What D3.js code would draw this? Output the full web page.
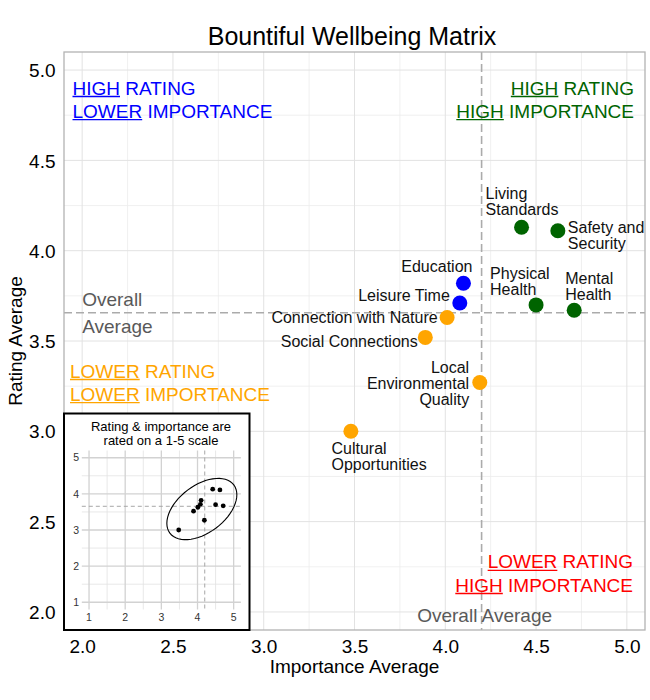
<!DOCTYPE html>
<html>
<head>
<meta charset="utf-8">
<script src="https://cdn.jsdelivr.net/npm/d3@7"></script>
<style>
  body { margin: 0; background: #fff; }
  svg text { font-family: "Liberation Sans", Arial, Helvetica, sans-serif; }
</style>
</head>
<body>
<div id="chart"></div>
<script>
// data
const categories = ["Living Standards", "Safety and Security", "Education", "Leisure Time",
  "Physical Health", "Mental Health", "Connection with Nature", "Social Connections",
  "Local Environmental Quality", "Cultural Opportunities"];
const importanceAvg = [4.42, 4.62, 4.10, 4.08, 4.50, 4.71, 4.01, 3.89, 4.19, 3.48];
const ratingAvg = [4.13, 4.11, 3.82, 3.71, 3.70, 3.67, 3.63, 3.52, 3.27, 3.00];
const mainTicks = [2.0, 2.5, 3.0, 3.5, 4.0, 4.5, 5.0];
const mainMinor = [2.25, 2.75, 3.25, 3.75, 4.25, 4.75];
const insetTicks = [1, 2, 3, 4, 5];
const insetMinor = [1.5, 2.5, 3.5, 4.5];

// inset ellipse (centre and shape in data units)
const ellipseCenter = [4.12, 3.58];
const ellipseShape = [0.937, 0.383, 0.719]; // xx, xy, yy

const quadColor = { hh: "#006400", lh: "#0000ff", ll: "#ffa500", hl: "#ff0000" };
const quadText = {
  lh: [["HIGH", " RATING"], ["LOWER", " IMPORTANCE"]],
  hh: [["HIGH", " RATING"], ["HIGH", " IMPORTANCE"]],
  ll: [["LOWER", " RATING"], ["LOWER", " IMPORTANCE"]],
  hl: [["LOWER", " RATING"], ["HIGH", " IMPORTANCE"]]
};

// label placement (pixel offsets from each point)
const labelLayout = [
  { dx: -36, dy: -28.5, anchor: "start", wrap: true },
  { dx: 10, dy: 1.7, anchor: "start", wrap: true },
  { dx: 9, dy: -11, anchor: "end" },
  { dx: -10, dy: -1.6, anchor: "end" },
  { dx: -46, dy: -26, anchor: "start", wrap: true },
  { dx: -9, dy: -26.7, anchor: "start", wrap: true },
  { dx: -9.4, dy: 5, anchor: "end" },
  { dx: -7.6, dy: 10, anchor: "end" },
  { dx: -10.6, dy: -10, anchor: "end", wrap: true },
  { dx: -19.4, dy: 22.6, anchor: "start", wrap: true }
];

const width = 650;
const height = 700;
const panel = { left: 64, right: 645, top: 52, bottom: 630 };

const avgImp = d3.mean(importanceAvg);
const avgRat = d3.mean(ratingAvg);

const quadrant = i => {
  const hiI = importanceAvg[i] >= avgImp;
  const hiR = ratingAvg[i] >= avgRat;
  return hiR ? (hiI ? "hh" : "lh") : (hiI ? "hl" : "ll");
};

const wrapLabel = name => {
  const words = name.split(" ");
  const lines = [];
  let cur = "";
  words.forEach(w => {
    const next = cur ? cur + " " + w : w;
    if (next.length > 12 && cur) { lines.push(cur); cur = w; }
    else cur = next;
  });
  lines.push(cur);
  return lines;
};

const x = d3.scaleLinear().domain([1.9, 5.1]).range([panel.left, panel.right]);
const y = d3.scaleLinear().domain([1.9, 5.1]).range([panel.bottom, panel.top]);

const svg = d3.select("#chart").append("svg")
  .attr("width", width)
  .attr("height", height);

svg.append("rect").attr("width", width).attr("height", height).attr("fill", "#fff");

svg.append("text")
  .attr("x", 352).attr("y", 44.5)
  .attr("text-anchor", "middle")
  .attr("font-size", 25)
  .text("Bountiful Wellbeing Matrix");

// grid
const grid = svg.append("g");
grid.selectAll(".minx").data(mainMinor).enter().append("line")
  .attr("x1", d => x(d)).attr("x2", d => x(d))
  .attr("y1", panel.top).attr("y2", panel.bottom)
  .attr("stroke", "#ececec").attr("stroke-width", 0.8);
grid.selectAll(".miny").data(mainMinor).enter().append("line")
  .attr("y1", d => y(d)).attr("y2", d => y(d))
  .attr("x1", panel.left).attr("x2", panel.right)
  .attr("stroke", "#ececec").attr("stroke-width", 0.8);
grid.selectAll(".majx").data(mainTicks).enter().append("line")
  .attr("x1", d => x(d)).attr("x2", d => x(d))
  .attr("y1", panel.top).attr("y2", panel.bottom)
  .attr("stroke", "#e2e2e2").attr("stroke-width", 1);
grid.selectAll(".majy").data(mainTicks).enter().append("line")
  .attr("y1", d => y(d)).attr("y2", d => y(d))
  .attr("x1", panel.left).attr("x2", panel.right)
  .attr("stroke", "#e2e2e2").attr("stroke-width", 1);

// axes (labels only)
const xAxis = d3.axisBottom(x).tickValues(mainTicks).tickFormat(d3.format(".1f")).tickSize(0).tickPadding(0);
const yAxis = d3.axisLeft(y).tickValues(mainTicks).tickFormat(d3.format(".1f")).tickSize(0).tickPadding(0);

const gx = svg.append("g").attr("transform", `translate(0, ${panel.bottom})`).call(xAxis);
gx.select(".domain").remove();
gx.selectAll("text").attr("font-size", 19).attr("fill", "#000").attr("dy", null).attr("y", 23);

const gy = svg.append("g").attr("transform", `translate(${panel.left}, 0)`).call(yAxis);
gy.select(".domain").remove();
gy.selectAll("text").attr("font-size", 19).attr("fill", "#000").attr("dy", "0.35em").attr("x", -8.5);

svg.append("text")
  .attr("x", (panel.left + panel.right) / 2).attr("y", 673)
  .attr("text-anchor", "middle").attr("font-size", 19)
  .text("Importance Average");

svg.append("text")
  .attr("transform", `translate(22, ${(panel.top + panel.bottom) / 2}) rotate(-90)`)
  .attr("text-anchor", "middle").attr("font-size", 19)
  .text("Rating Average");

// average lines
const avgG = svg.append("g");
avgG.append("line")
  .attr("x1", x(avgImp)).attr("x2", x(avgImp))
  .attr("y1", panel.top).attr("y2", panel.bottom)
  .attr("stroke", "#ababab").attr("stroke-width", 1.6).attr("stroke-dasharray", "8,4");
avgG.append("line")
  .attr("y1", y(avgRat)).attr("y2", y(avgRat))
  .attr("x1", panel.left).attr("x2", panel.right)
  .attr("stroke", "#ababab").attr("stroke-width", 1.6).attr("stroke-dasharray", "8,4");

avgG.append("text")
  .attr("x", x(avgImp) + 3).attr("y", 621.7)
  .attr("text-anchor", "middle").attr("font-size", 19).attr("fill", "#595959")
  .text("Overall Average");
avgG.append("text")
  .attr("x", x(2.0)).attr("y", y(avgRat) - 6.7)
  .attr("font-size", 19).attr("fill", "#595959")
  .text("Overall");
avgG.append("text")
  .attr("x", x(2.0)).attr("y", y(avgRat) + 20.6)
  .attr("font-size", 19).attr("fill", "#595959")
  .text("Average");

// quadrant labels with the first word underlined
const quadPos = {
  lh: { x: 72.5, y: 94.5, anchor: "start" },
  hh: { x: 634, y: 94.5, anchor: "end" },
  ll: { x: 70, y: 377.5, anchor: "start" },
  hl: { x: 633, y: 568.3, anchor: "end" }
};
Object.keys(quadText).forEach(k => {
  const p = quadPos[k];
  quadText[k].forEach((parts, li) => {
    const t = svg.append("text")
      .attr("x", p.x).attr("y", p.y + li * 23.2)
      .attr("text-anchor", p.anchor)
      .attr("font-size", 19)
      .attr("fill", quadColor[k]);
    t.append("tspan").text(parts[0]);
    t.append("tspan").text(parts[1]);
    const node = t.node();
    const x0 = node.getStartPositionOfChar(0).x;
    const w0 = node.getSubStringLength(0, parts[0].length);
    svg.append("line")
      .attr("x1", x0).attr("x2", x0 + w0)
      .attr("y1", p.y + li * 23.2 + 2).attr("y2", p.y + li * 23.2 + 2)
      .attr("stroke", quadColor[k]).attr("stroke-width", 1.3);
  });
});

// points and labels
const idx = d3.range(categories.length);
svg.append("g").selectAll("circle").data(idx).enter().append("circle")
  .attr("cx", i => x(importanceAvg[i]))
  .attr("cy", i => y(ratingAvg[i]))
  .attr("r", 7.5)
  .attr("fill", i => quadColor[quadrant(i)]);

const labels = svg.append("g");
idx.forEach(i => {
  const L = labelLayout[i];
  const lines = L.wrap ? wrapLabel(categories[i]) : [categories[i]];
  const t = labels.append("text")
    .attr("x", x(importanceAvg[i]) + L.dx)
    .attr("y", y(ratingAvg[i]) + L.dy)
    .attr("text-anchor", L.anchor)
    .attr("font-size", 16)
    .attr("fill", "#111");
  lines.forEach((ln, j) => {
    t.append("tspan")
      .attr("x", x(importanceAvg[i]) + L.dx)
      .attr("dy", j === 0 ? 0 : 16.2)
      .text(ln);
  });
});

svg.append("rect")
  .attr("x", panel.left).attr("y", panel.top)
  .attr("width", panel.right - panel.left).attr("height", panel.bottom - panel.top)
  .attr("fill", "none").attr("stroke", "#b3b3b3").attr("stroke-width", 1.3);

// inset
const inset = svg.append("g");
const box = { left: 64, right: 249.5, top: 413.5, bottom: 630 };
inset.append("rect")
  .attr("x", box.left).attr("y", box.top)
  .attr("width", box.right - box.left).attr("height", box.bottom - box.top)
  .attr("fill", "#fff").attr("stroke", "#000").attr("stroke-width", 2);

inset.append("text")
  .attr("x", 161).attr("y", 431)
  .attr("text-anchor", "middle").attr("font-size", 13)
  .text("Rating & importance are");
inset.append("text")
  .attr("x", 161).attr("y", 444.5)
  .attr("text-anchor", "middle").attr("font-size", 13)
  .text("rated on a 1-5 scale");

const ix = d3.scaleLinear().domain([0.8, 5.2]).range([81.8, 240.9]);
const iy = d3.scaleLinear().domain([0.8, 5.2]).range([609.5, 450.5]);

inset.selectAll(".iminx").data(insetMinor).enter().append("line")
  .attr("x1", d => ix(d)).attr("x2", d => ix(d)).attr("y1", iy.range()[1]).attr("y2", iy.range()[0])
  .attr("stroke", "#e2e2e2").attr("stroke-width", 0.8);
inset.selectAll(".iminy").data(insetMinor).enter().append("line")
  .attr("y1", d => iy(d)).attr("y2", d => iy(d)).attr("x1", ix.range()[0]).attr("x2", ix.range()[1])
  .attr("stroke", "#e2e2e2").attr("stroke-width", 0.8);
inset.selectAll(".imajx").data(insetTicks).enter().append("line")
  .attr("x1", d => ix(d)).attr("x2", d => ix(d)).attr("y1", iy.range()[1]).attr("y2", iy.range()[0])
  .attr("stroke", "#d2d2d2").attr("stroke-width", 1.3);
inset.selectAll(".imajy").data(insetTicks).enter().append("line")
  .attr("y1", d => iy(d)).attr("y2", d => iy(d)).attr("x1", ix.range()[0]).attr("x2", ix.range()[1])
  .attr("stroke", "#d2d2d2").attr("stroke-width", 1.3);

inset.selectAll(".ixl").data(insetTicks).enter().append("text")
  .attr("x", d => ix(d)).attr("y", 620.5)
  .attr("text-anchor", "middle").attr("font-size", 10.5).attr("fill", "#333")
  .text(d => d);
inset.selectAll(".iyl").data(insetTicks).enter().append("text")
  .attr("x", 79).attr("y", d => iy(d)).attr("dy", "0.35em")
  .attr("text-anchor", "end").attr("font-size", 10.5).attr("fill", "#333")
  .text(d => d);

inset.append("line")
  .attr("x1", ix(avgImp)).attr("x2", ix(avgImp)).attr("y1", iy.range()[1]).attr("y2", iy.range()[0])
  .attr("stroke", "#a6a6a6").attr("stroke-width", 1).attr("stroke-dasharray", "4,3");
inset.append("line")
  .attr("y1", iy(avgRat)).attr("y2", iy(avgRat)).attr("x1", ix.range()[0]).attr("x2", ix.range()[1])
  .attr("stroke", "#a6a6a6").attr("stroke-width", 1).attr("stroke-dasharray", "4,3");

// ellipse: centre + unit circle mapped through the Cholesky factor of the shape
const r11 = Math.sqrt(ellipseShape[0]);
const r12 = ellipseShape[1] / r11;
const r22 = Math.sqrt(ellipseShape[2] - r12 * r12);
const ellipse = d3.range(61).map(k => {
  const ang = k * 2 * Math.PI / 60;
  const c = Math.cos(ang), s = Math.sin(ang);
  return [ellipseCenter[0] + c * r11, ellipseCenter[1] + c * r12 + s * r22];
});
inset.append("path")
  .attr("d", d3.line().x(d => ix(d[0])).y(d => iy(d[1]))(ellipse))
  .attr("fill", "none").attr("stroke", "#000").attr("stroke-width", 1.1);

inset.selectAll(".ipt").data(idx).enter().append("circle")
  .attr("cx", i => ix(importanceAvg[i]))
  .attr("cy", i => iy(ratingAvg[i]))
  .attr("r", 2.4)
  .attr("fill", "#000");
</script>
</body>
</html>
